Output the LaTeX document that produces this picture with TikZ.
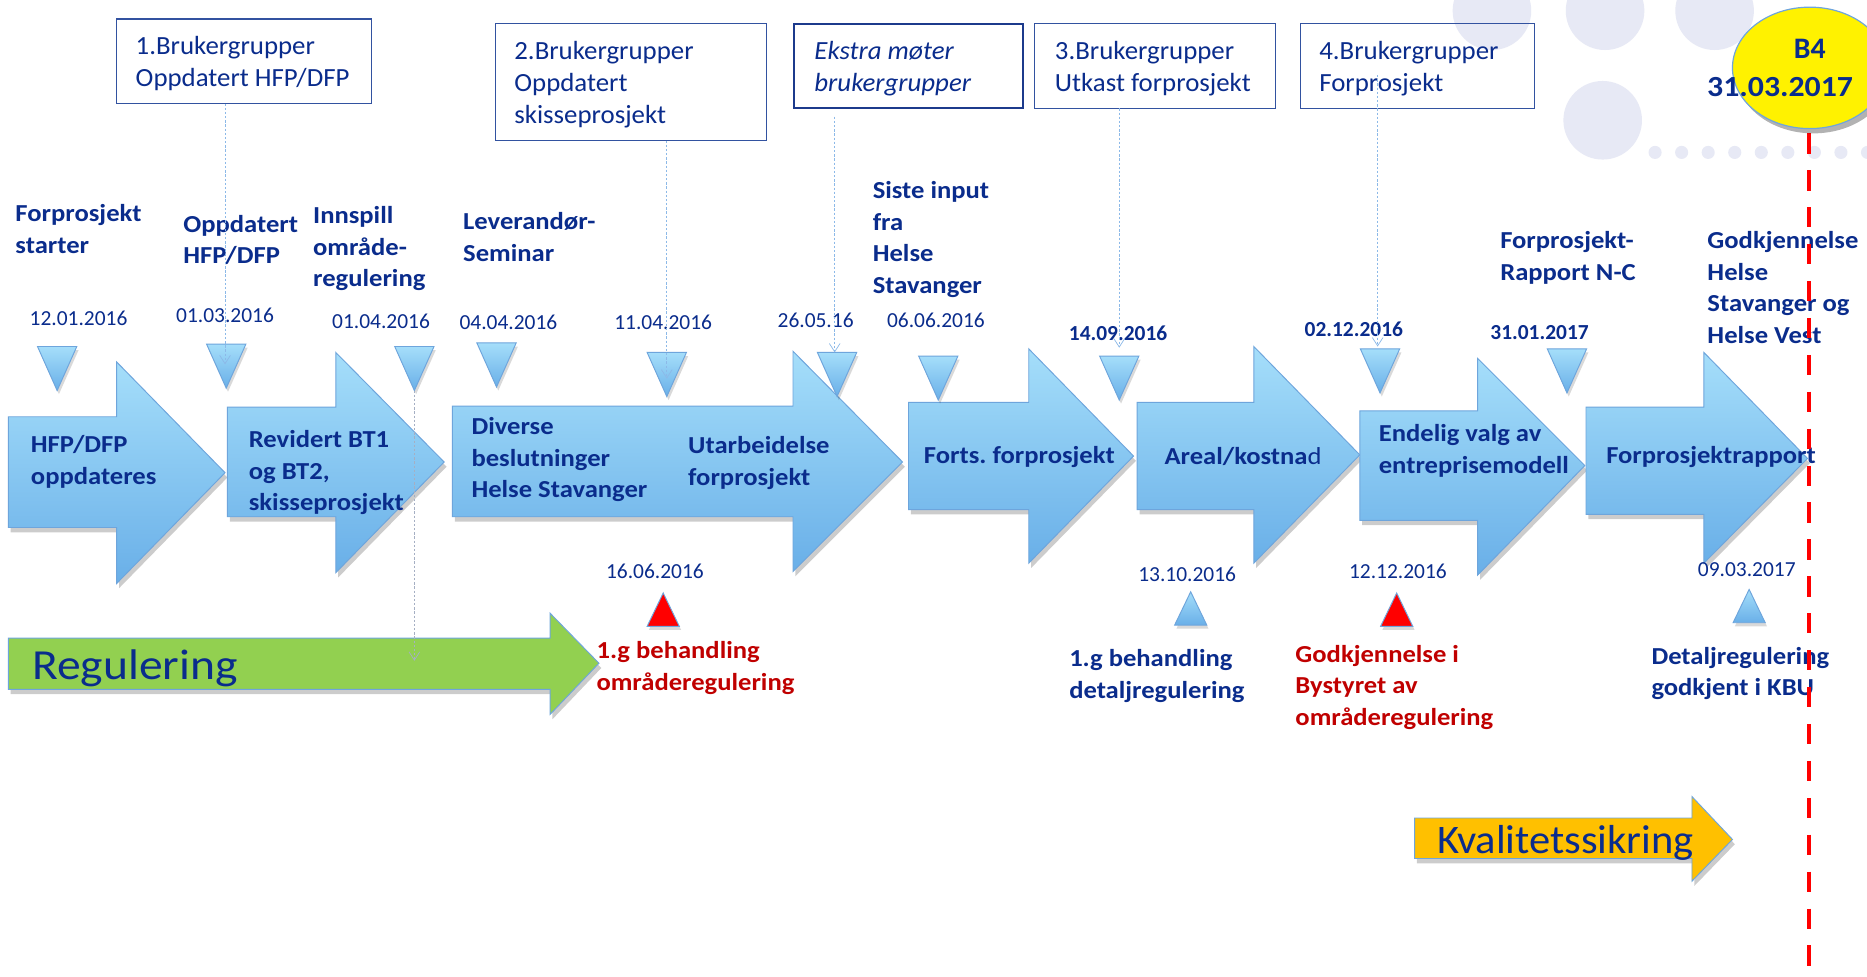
\documentclass[tikz,border=0pt]{standalone}
\usepackage{fontspec}
\setmainfont{Carlito}
\newfontfamily\widefont{Carlito}[FakeStretch=1.09]
\newfontfamily\boxfont{Carlito}[FakeStretch=1.025]
\newfontfamily\regfont{Carlito}[FakeStretch=1.11]
\newfontfamily\kvfont{Carlito}[FakeStretch=1.05]
\frenchspacing
\usetikzlibrary{shadows,arrows.meta,shapes.geometric}
\definecolor{navy}{RGB}{10,44,140}
\definecolor{boxline}{RGB}{50,82,160}
\definecolor{boxdark}{RGB}{28,58,140}
\definecolor{lblue}{RGB}{165,222,250}
\definecolor{mblue}{RGB}{105,175,232}
\definecolor{arrline}{RGB}{110,165,220}
\definecolor{dred}{RGB}{192,0,0}
\definecolor{dotc}{RGB}{231,233,245}
\definecolor{grn}{RGB}{146,208,80}
\definecolor{orng}{RGB}{255,192,0}
\definecolor{connc}{RGB}{140,185,232}
\definecolor{connd}{RGB}{165,175,195}
\newcommand{\lns}[1]{\begin{tabular}[t]{@{}l@{}}#1\end{tabular}}
\newcommand{\blockarr}[9]{\path[#1] (#2,#3) -- (#5,#3) -- (#5,#6) -- (#8,#9) -- (#5,#7) -- (#5,#4) -- (#2,#4) -- cycle;}
\newcommand{\dtri}[3]{\path[tristyle] (#2-16.5,#3) -- (#2+16.5,#3) -- (#2,#3+37) -- cycle; \coordinate (#1) at (#2,#3+37);}
\newcommand{\utri}[4]{\path[#2] (#3-13.5,#4) -- (#3+13.5,#4) -- (#3,#4-28) -- cycle; \coordinate (#1) at (#3,#4-28);}
\begin{document}
\begin{tikzpicture}[x=1pt,y=-1pt,
  every node/.style={inner sep=0pt,outer sep=0pt},
  lab/.style={anchor=base west, text=navy, font=\widefont\fontsize{20.5}{26.5}\selectfont\bfseries},
  rlab/.style={lab, text=dred},
  dt/.style={anchor=base, text=navy, font=\fontsize{18}{22}\selectfont},
  bdt/.style={dt, font=\fontsize{18}{22}\selectfont\bfseries},
  ubox/.style={draw=boxline, line width=1pt, anchor=north west},
  btxt/.style={anchor=base west, text=navy, font=\boxfont\fontsize{22}{26.8}\selectfont},
  blockarrow/.style={top color=lblue, bottom color=mblue, draw=arrline, line width=0.8pt,
     drop shadow={shadow xshift=2pt, shadow yshift=-4pt, opacity=0.2, fill=black}},
  tristyle/.style={top color=lblue, bottom color=mblue, draw=arrline, line width=0.8pt,
     drop shadow={shadow xshift=1.5pt, shadow yshift=-3pt, opacity=0.15, fill=black}},
  redtri/.style={fill=red, draw=arrline, line width=0.8pt,
     drop shadow={shadow xshift=1.5pt, shadow yshift=-3pt, opacity=0.15, fill=black}},
  conn/.style={draw=connc, line width=0.6pt, dash pattern=on 2pt off 1.5pt,
     -{Straight Barb[length=7pt,width=9pt]}},
  conng/.style={conn, draw=connd}
]
\useasboundingbox (0,0) rectangle (1568,820);
\fill[white] (0,0) rectangle (1568,820);

% decorative circles
\fill[dotc] (1253,9) circle[radius=33pt];
\fill[dotc] (1348,9) circle[radius=33pt];
\fill[dotc] (1440,9) circle[radius=33pt];
\fill[dotc] (1346,101) circle[radius=33pt];
\foreach \k in {0,...,8} \fill[dotc] (1390+22.3*\k,128) circle[radius=5.5pt];

% top boxes
\node[ubox, minimum width=214, minimum height=71] (b1) at (98,16) {};
\node[btxt] (b1t) at (114,46) {\lns{1.Brukergrupper\\Oppdatert HFP/DFP}};
\node[ubox, minimum width=228, minimum height=98] (b2) at (416,20) {};
\node[btxt] (b2t) at (432,50) {\lns{2.Brukergrupper\\Oppdatert\\skisseprosjekt}};
\node[ubox, draw=boxdark, line width=1.8pt, minimum width=192, minimum height=71] (b3) at (667,20) {};
\node[btxt, font=\boxfont\fontsize{22}{26.8}\selectfont\itshape] (b3t) at (684,50) {\lns{Ekstra møter\\brukergrupper}};
\node[ubox, minimum width=202, minimum height=71] (b4) at (869,20) {};
\node[btxt] (b4t) at (886,50) {\lns{3.Brukergrupper\\Utkast forprosjekt}};
\node[ubox, minimum width=197, minimum height=71] (b5) at (1092,20) {};
\node[btxt] (b5t) at (1108,50) {\lns{4.Brukergrupper\\Forprosjekt}};

% top labels
\node[lab] (l1) at (13,186) {\lns{Forprosjekt\\starter}};
\node[lab] (l2) at (154,195) {\lns{Oppdatert\\HFP/DFP}};
\node[lab] (l3) at (263,188) {\lns{Innspill\\område-\\regulering}};
\node[lab] (l4) at (389,193) {\lns{Leverandør-\\Seminar}};
\node[lab] (l5) at (733,167) {\lns{Siste input\\fra\\Helse\\Stavanger}};
\node[lab] (l6) at (1260,209) {\lns{Forprosjekt-\\Rapport N-C}};
\node[lab] (l7) at (1434,209) {\lns{Godkjennelse\\Helse\\Stavanger og\\Helse Vest}};

% dates top
\node[dt] (d1) at (66,273) {12.01.2016};
\node[dt] (d2) at (189,271) {01.03.2016};
\node[dt] (d3) at (320,276) {01.04.2016};
\node[dt] (d4) at (427,277) {04.04.2016};
\node[dt] (d5) at (557,277) {11.04.2016};
\node[dt] (d6) at (685,275) {26.05.16};
\node[dt] (d7) at (786,275) {06.06.2016};
\node[bdt] (d8) at (939,286) {14.09.2016};
\node[bdt] (d9) at (1137,283) {02.12.2016};
\node[bdt] (d10) at (1293,285) {31.01.2017};

% big arrows
\blockarr{blockarrow}{7}{350}{443}{98}{304}{490}{189}{397}
\blockarr{blockarrow}{191}{342}{434}{282}{296}{481}{373}{388}
\blockarr{blockarrow}{380}{341}{434}{666}{295}{480}{758}{388}
\blockarr{blockarrow}{763}{338}{428}{864}{293}{473}{952}{383}
\blockarr{blockarrow}{955}{338}{428}{1053}{291}{473}{1142}{382}
\blockarr{blockarrow}{1142}{345}{437}{1241}{301}{483}{1331}{391}
\blockarr{blockarrow}{1332}{342}{432}{1431}{296}{473}{1518}{385}

% arrow texts
\node[lab] (a1) at (26,380) {\lns{HFP/DFP\\oppdateres}};
\node[lab] (a2) at (209,376) {\lns{Revidert BT1\\og BT2,\\skisseprosjekt}};
\node[lab] (a3) at (396,365) {\lns{Diverse\\beslutninger\\Helse Stavanger}};
\node[lab] (a3b) at (578,381) {\lns{Utarbeidelse\\forprosjekt}};
\node[lab] (a4) at (776,389) {Forts. forprosjekt};
\node[lab] (a5) at (978,390) {Areal/kostna{\mdseries d}};
\node[lab] (a6) at (1158,371) {\lns{Endelig valg av\\entreprisemodell}};
\node[lab] (a7) at (1349,389) {Forprosjektrapport};

% down triangles
\dtri{t1}{48}{291}
\dtri{t2}{190}{289}
\dtri{t3}{348}{291}
\dtri{t4}{417}{288}
\dtri{t5}{560}{296}
\dtri{t6}{703}{296}
\dtri{t7}{788}{299}
\dtri{t8}{940}{299}
\dtri{t9}{1159}{293}
\dtri{t10}{1316}{293}

% connectors
\coordinate (e1) at (189,306);
\coordinate (e2) at (560,318);
\coordinate (s3) at (701,98);
\coordinate (e3) at (701,296);
\coordinate (e4) at (940,292);
\coordinate (s5) at (1157,63);
\coordinate (e5) at (1157,291);
\coordinate (e6) at (348,555);
\draw[conn] (b1.south -| e1) -- (e1);
\draw[conn] (b2.south -| e2) -- (e2);
\draw[conn] (s3) -- (e3);
\draw[conn] (b4.south -| e4) -- (e4);
\draw[conn] (s5) -- (e5);

% regulering arrow
\blockarr{fill=grn, draw=arrline, line width=0.8pt, drop shadow={shadow xshift=2pt, shadow yshift=-4pt, opacity=0.2, fill=black}}{7}{536}{579}{462}{515}{600}{503}{557}
\node[anchor=base west, text=navy, font=\regfont\fontsize{36}{40}\selectfont] (reg) at (27,571) {Regulering};
\draw[conng] (t3) -- (e6);

% bottom triangles
\utri{u1}{redtri}{557}{526}
\utri{u2}{tristyle}{1000}{525}
\utri{u3}{redtri}{1173}{526}
\utri{u4}{tristyle}{1469}{523}

% bottom dates
\node[dt] (d11) at (550,486) {16.06.2016};
\node[dt] (d12) at (997,488) {13.10.2016};
\node[dt] (d13) at (1174,486) {12.12.2016};
\node[dt] (d14) at (1467,484) {09.03.2017};

% bottom labels
\node[rlab] (r1) at (501,553) {\lns{1.g behandling\\områderegulering}};
\node[lab] (r2) at (898,560) {\lns{1.g behandling\\detaljregulering}};
\node[rlab] (r3) at (1088,556) {\lns{Godkjennelse i\\Bystyret av\\områderegulering}};
\node[lab] (r4) at (1387,558) {\lns{Detaljregulering\\godkjent i KBU}};

% kvalitetssikring arrow
\blockarr{fill=orng, draw=arrline, line width=0.8pt, drop shadow={shadow xshift=2pt, shadow yshift=-4pt, opacity=0.2, fill=black}}{1188}{687}{721}{1421}{669}{740}{1455}{705}
\node[anchor=base west, text=navy, font=\kvfont\fontsize{34}{38}\selectfont] (kval) at (1207,717) {Kvalitetssikring};

% red dashed line
\coordinate (rtop) at (1519,112);
\coordinate (rbot) at (1519,820);
\draw[red, line width=3.5pt, dash pattern=on 17pt off 14pt] (rtop) -- (rbot);

% B4 ellipse
\node[ellipse, draw=arrline, line width=1pt, fill=yellow, minimum width=130pt, minimum height=102pt,
  drop shadow={shadow xshift=3pt, shadow yshift=-4pt, opacity=0.3, fill=black}] (bfour) at (1520,57) {};
\node[anchor=base, text=navy, font=\fontsize{25}{30}\selectfont\bfseries] (bfa) at (1520,49) {B4};
\node[anchor=base, text=navy, font=\widefont\fontsize{24.5}{30}\selectfont\bfseries] (bfb) at (1495,81) {31.03.2017};
\end{tikzpicture}
\end{document}
